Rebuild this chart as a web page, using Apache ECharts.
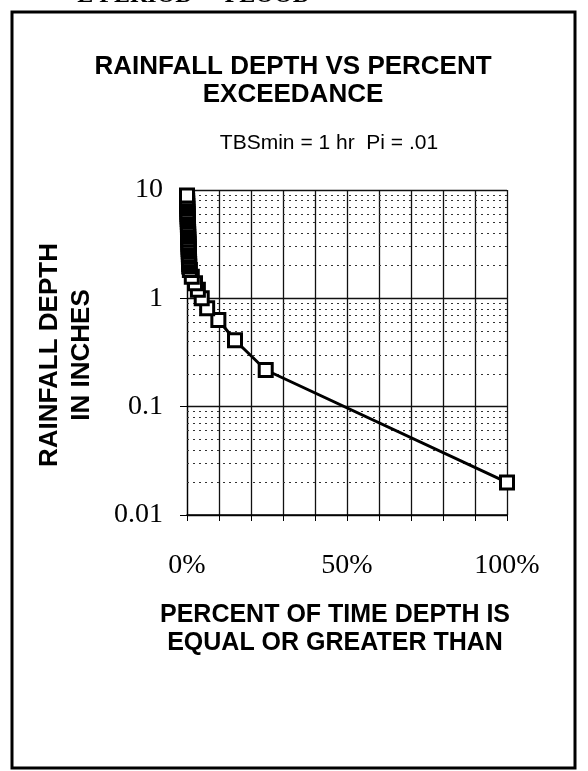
<!DOCTYPE html>
<html>
<head>
<meta charset="utf-8">
<script src="https://cdn.jsdelivr.net/npm/echarts@6/dist/echarts.min.js"></script>
<style>
html,body{margin:0;padding:0;background:#fff;}
#main{width:588px;height:771px;}
</style>
</head>
<body>
<div id="main"></div>
<script>
// percent of time depth is equaled or exceeded
var percentVals = [0, 0.025, 0.05, 0.075, 0.1, 0.125, 0.15, 0.175, 0.2, 0.225, 0.25, 0.275, 0.3, 0.325, 0.35,
				   0.375, 0.4, 0.425, 0.45, 0.475, 0.5, 0.525, 0.55, 0.575, 0.6, 0.625, 0.65, 0.675, 0.7,
				   0.9, 1.5, 2.5, 3.4, 4.6, 6.3, 9.8, 15, 24.6, 100];
// rainfall depth, inches
var depthVals = [8.9, 8.4, 7.9, 7.5, 7.1, 6.7, 6.3, 6.0, 5.7, 5.4, 5.1, 4.8, 4.55, 4.3, 4.1,
				 3.9, 3.7, 3.5, 3.3, 3.15, 3.0, 2.85, 2.7, 2.55, 2.42, 2.3, 2.18, 2.07, 1.97,
				 1.83, 1.58, 1.38, 1.2, 1.0, 0.81, 0.63, 0.41, 0.218, 0.020];

var yTicks = [0.01, 0.1, 1, 10];
var yTickLabels = ['0.01', '0.1', '1', '10'];
var xTicks = [0, 50, 100];
var xTickLabels = ['0%', '50%', '100%'];
var minorSteps = [2, 3, 4, 5, 6, 7, 8, 9];

var mycharts = echarts.init(document.getElementById('main'));

// drawn from the 100% end so the top square lands last, like the original
var seriesData = [];
for (var i = percentVals.length - 1; i >= 0; i--) {
	seriesData.push([percentVals[i], depthVals[i]]);
}

// dotted minor grid lines of the log axis
var minorLines = [];
for (var d = 0; d < yTicks.length - 1; d++) {
	for (var m = 0; m < minorSteps.length; m++) {
		minorLines.push({yAxis: yTicks[d] * minorSteps[m]});
	}
}

function yLabel(v) {
	for (var k = 0; k < yTicks.length; k++) {
		if (Math.abs(Math.log10(v) - Math.log10(yTicks[k])) < 0.01) return yTickLabels[k];
	}
	return '';
}
function xLabel(v) {
	var idx = xTicks.indexOf(Math.round(v));
	return idx >= 0 ? xTickLabels[idx] : '';
}

var option = {
	animation: false,
	backgroundColor: '#fff',
	grid: {left: 187, right: 81, top: 190, bottom: 256, containLabel: false},
	xAxis: {
		type: 'value',
		min: 0,
		max: 100,
		interval: 10,
		axisLine: {show: true, onZero: false, lineStyle: {color: '#000', width: 1.5}},
		axisTick: {show: true, length: 6, lineStyle: {color: '#000'}},
		axisLabel: {
			formatter: xLabel,
			margin: 37,
			color: '#000',
			fontFamily: 'Liberation Serif',
			fontSize: 28
		},
		splitLine: {show: true, lineStyle: {color: '#111', width: 1.3}}
	},
	yAxis: {
		type: 'log',
		logBase: 10,
		min: 0.01,
		max: 10,
		axisLine: {show: true, lineStyle: {color: '#000', width: 1.2}},
		axisTick: {show: true, length: 7, lineStyle: {color: '#000'}},
		axisLabel: {
			formatter: yLabel,
			margin: 24,
			color: '#000',
			fontFamily: 'Liberation Serif',
			fontSize: 28
		},
		splitLine: {show: true, lineStyle: {color: '#111', width: 1.3}}
	},
	series: [{
		type: 'line',
		data: seriesData,
		symbol: 'rect',
		symbolSize: 13,
		showAllSymbol: true,
		lineStyle: {color: '#000', width: 3},
		itemStyle: {color: '#fff', borderColor: '#000', borderWidth: 3},
		z: 5,
		markLine: {
			silent: true,
			symbol: 'none',
			label: {show: false},
			lineStyle: {color: '#333', width: 1, type: [2, 4]},
			data: minorLines,
			z: 1
		}
	}],
	graphic: [
		{
			type: 'rect',
			shape: {x: 12, y: 12, width: 563, height: 756},
			style: {fill: 'none', stroke: '#000', lineWidth: 3},
			silent: true
		},
		{
			type: 'text',
			x: 310, y: 8,
			style: {text: 'E PERIOD  -  FLOOD', font: 'bold 24px "Liberation Serif"', fill: '#000',
				textAlign: 'right', textVerticalAlign: 'bottom'}
		},
		{
			type: 'text',
			x: 293, y: 81,
			style: {text: 'RAINFALL DEPTH VS PERCENT\nEXCEEDANCE', font: 'bold 26px "Liberation Sans"',
				fill: '#000', textAlign: 'center', textVerticalAlign: 'middle', lineHeight: 28}
		},
		{
			type: 'text',
			x: 329, y: 143,
			style: {text: 'TBSmin = 1 hr  Pi = .01', font: '21px "Liberation Sans"',
				fill: '#000', textAlign: 'center', textVerticalAlign: 'middle'}
		},
		{
			type: 'text',
			x: 66, y: 355,
			rotation: Math.PI / 2,
			style: {text: 'RAINFALL DEPTH\nIN INCHES', font: 'bold 26px "Liberation Sans"',
				fill: '#000', textAlign: 'center', textVerticalAlign: 'middle', lineHeight: 32}
		},
		{
			type: 'text',
			x: 335, y: 629,
			style: {text: 'PERCENT OF TIME DEPTH IS\nEQUAL OR GREATER THAN', font: 'bold 25px "Liberation Sans"',
				fill: '#000', textAlign: 'center', textVerticalAlign: 'middle', lineHeight: 28}
		}
	]
};

mycharts.setOption(option);
</script>
</body>
</html>
